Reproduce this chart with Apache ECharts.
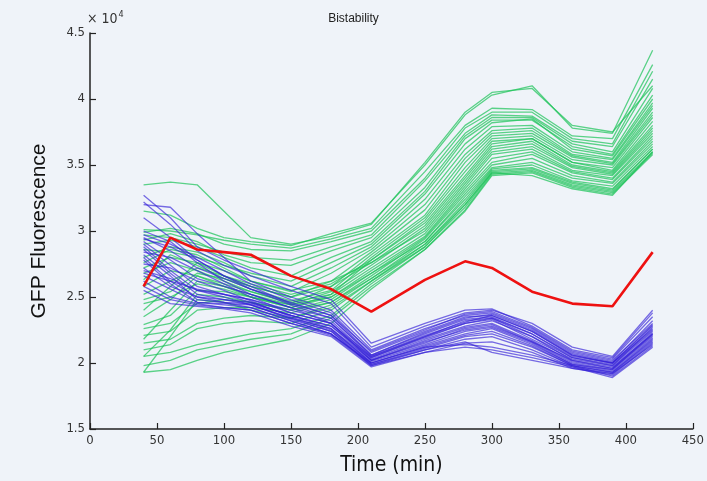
<!DOCTYPE html>
<html>
<head>
<meta charset="utf-8">
<script src="https://cdn.jsdelivr.net/npm/echarts@6/dist/echarts.min.js"></script>
<style>
html,body{margin:0;padding:0;background:#eff3f9;}
#c{width:707px;height:481px;}
</style>
</head>
<body>
<div id="c"></div>
<script>
// Time points (min)
var times = [40,60,80,100,120,150,180,210,250,280,300,330,360,390,420];
// Values are in units of 10^4 (GFP fluorescence)
var xTicks = [0,50,100,150,200,250,300,350,400,450];
var yTicks = [1.5,2,2.5,3,3.5,4,4.5];

var redLine = [2.58,2.95,2.86,2.84,2.82,2.66,2.56,2.39,2.63,2.77,2.72,2.54,2.45,2.43,2.84];

var greenLines = [
[3.35,3.37,3.35,3.15,2.95,2.90,2.96,3.05,3.52,3.90,4.05,4.08,3.80,3.75,4.10],
[3.15,3.12,3.02,2.95,2.92,2.89,2.98,3.06,3.50,3.88,4.03,4.10,3.78,3.74,4.37],
[3.01,3.00,2.97,2.93,2.90,2.87,2.94,3.02,3.45,3.80,3.93,3.92,3.72,3.70,4.26],
[2.99,3.02,2.98,2.90,2.86,2.85,2.92,3.00,3.40,3.78,3.90,3.90,3.70,3.66,4.21],
[2.97,2.95,2.90,2.84,2.80,2.78,2.88,2.97,3.38,3.74,3.88,3.87,3.68,3.64,4.15],
[2.93,2.98,2.92,2.82,2.76,2.74,2.85,2.95,3.33,3.72,3.86,3.86,3.66,3.60,4.08],
[2.90,2.93,2.88,2.80,2.72,2.66,2.80,2.92,3.30,3.70,3.84,3.84,3.64,3.58,4.03],
[2.86,2.84,2.80,2.74,2.68,2.62,2.76,2.90,3.28,3.66,3.82,3.85,3.62,3.57,4.00],
[2.80,2.88,2.84,2.76,2.66,2.58,2.72,2.88,3.24,3.62,3.79,3.80,3.60,3.55,3.97],
[2.76,2.86,2.82,2.72,2.62,2.54,2.68,2.86,3.20,3.58,3.76,3.78,3.58,3.54,3.95],
[2.72,2.80,2.76,2.66,2.58,2.50,2.62,2.84,3.16,3.55,3.74,3.76,3.57,3.52,3.93],
[2.68,2.76,2.70,2.62,2.54,2.45,2.58,2.82,3.12,3.52,3.72,3.74,3.56,3.51,3.90],
[2.63,2.82,2.74,2.64,2.56,2.47,2.55,2.80,3.10,3.48,3.70,3.72,3.54,3.50,3.88],
[2.58,2.70,2.66,2.58,2.50,2.42,2.52,2.78,3.08,3.45,3.68,3.70,3.52,3.48,3.86],
[2.52,2.62,2.72,2.66,2.60,2.52,2.60,2.78,3.06,3.42,3.66,3.70,3.52,3.46,3.83],
[2.48,2.54,2.68,2.64,2.58,2.50,2.58,2.76,3.04,3.40,3.64,3.68,3.50,3.45,3.80],
[2.45,2.50,2.60,2.56,2.50,2.44,2.54,2.74,3.02,3.38,3.62,3.66,3.49,3.44,3.78],
[2.40,2.58,2.76,2.70,2.62,2.55,2.62,2.76,3.00,3.36,3.60,3.64,3.48,3.43,3.76],
[2.35,2.48,2.66,2.60,2.54,2.46,2.52,2.72,2.98,3.34,3.58,3.62,3.46,3.42,3.74],
[2.29,2.36,2.55,2.54,2.50,2.42,2.50,2.70,2.96,3.32,3.55,3.60,3.45,3.40,3.72],
[2.26,2.30,2.45,2.48,2.46,2.40,2.48,2.68,2.95,3.30,3.52,3.58,3.44,3.39,3.70],
[2.21,2.24,2.40,2.42,2.42,2.38,2.46,2.66,2.94,3.28,3.50,3.55,3.42,3.37,3.68],
[2.18,2.40,2.62,2.58,2.52,2.44,2.50,2.68,2.92,3.26,3.48,3.52,3.40,3.36,3.66],
[2.15,2.18,2.30,2.34,2.36,2.34,2.44,2.64,2.92,3.24,3.47,3.50,3.38,3.34,3.64],
[2.10,2.14,2.26,2.30,2.32,2.30,2.40,2.62,2.90,3.22,3.46,3.48,3.37,3.32,3.62],
[2.05,2.25,2.52,2.50,2.46,2.40,2.46,2.64,2.90,3.20,3.45,3.47,3.36,3.31,3.62],
[2.05,2.08,2.14,2.18,2.22,2.26,2.36,2.60,2.88,3.18,3.44,3.46,3.35,3.30,3.60],
[1.98,2.02,2.10,2.14,2.18,2.22,2.34,2.58,2.86,3.16,3.43,3.45,3.34,3.29,3.59],
[1.93,1.95,2.02,2.08,2.12,2.18,2.30,2.56,2.86,3.15,3.42,3.44,3.33,3.28,3.58],
[1.93,2.20,2.48,2.46,2.40,2.34,2.42,2.62,2.88,3.20,3.44,3.42,3.32,3.27,3.60]
];

var blueLines = [
[3.27,3.10,2.88,2.78,2.70,2.58,2.48,2.15,2.30,2.40,2.41,2.28,2.10,2.04,2.38],
[3.22,3.05,2.85,2.74,2.66,2.55,2.45,2.12,2.28,2.38,2.40,2.30,2.12,2.05,2.40],
[3.20,3.18,2.98,2.80,2.62,2.50,2.40,2.10,2.26,2.36,2.38,2.26,2.08,2.02,2.30],
[2.97,2.90,2.80,2.70,2.60,2.48,2.38,2.08,2.24,2.35,2.36,2.24,2.06,2.00,2.28],
[2.95,2.85,2.72,2.64,2.56,2.46,2.36,2.06,2.22,2.33,2.35,2.22,2.05,2.00,2.26],
[2.92,2.78,2.64,2.58,2.52,2.42,2.34,2.05,2.20,2.32,2.34,2.20,2.04,1.99,2.25],
[2.88,2.70,2.55,2.52,2.48,2.40,2.32,2.04,2.19,2.30,2.33,2.18,2.03,1.98,2.24],
[2.84,2.80,2.70,2.60,2.50,2.38,2.30,2.03,2.18,2.28,2.32,2.20,2.02,1.97,2.22],
[2.82,2.66,2.48,2.46,2.45,2.36,2.28,2.02,2.17,2.27,2.30,2.17,2.01,1.96,2.21],
[2.78,2.60,2.46,2.45,2.44,2.34,2.26,2.02,2.15,2.26,2.29,2.16,2.00,1.95,2.20],
[2.75,2.72,2.62,2.55,2.47,2.35,2.25,2.01,2.14,2.24,2.27,2.15,1.99,1.95,2.22],
[2.70,2.64,2.55,2.50,2.44,2.33,2.24,2.00,2.13,2.22,2.26,2.14,1.99,1.94,2.19],
[2.66,2.56,2.46,2.44,2.42,2.32,2.22,2.00,2.12,2.21,2.24,2.13,1.98,1.93,2.18],
[2.62,2.50,2.45,2.42,2.40,2.30,2.22,1.99,2.11,2.20,2.22,2.12,1.98,1.93,2.17],
[2.58,2.48,2.44,2.42,2.40,2.30,2.21,1.98,2.10,2.18,2.20,2.10,1.97,1.92,2.16],
[2.55,2.45,2.43,2.41,2.38,2.28,2.20,1.97,2.08,2.15,2.16,2.08,1.96,1.91,2.15],
[3.00,2.92,2.76,2.62,2.52,2.42,2.30,2.02,2.16,2.25,2.28,2.16,2.02,1.96,2.23],
[2.90,2.74,2.58,2.52,2.46,2.36,2.26,2.00,2.12,2.14,2.12,2.06,1.98,1.90,2.13],
[2.86,2.68,2.52,2.48,2.44,2.34,2.24,1.98,2.08,2.12,2.10,2.04,1.97,1.89,2.12],
[2.80,2.62,2.50,2.46,2.42,2.32,2.22,1.99,2.10,2.16,2.08,2.02,1.96,1.92,2.14],
[2.72,2.58,2.50,2.48,2.46,2.36,2.28,2.04,2.20,2.30,2.34,2.22,2.04,1.98,2.27],
[2.94,2.88,2.78,2.66,2.56,2.44,2.34,2.06,2.23,2.34,2.37,2.25,2.07,2.01,2.32],
[2.68,2.62,2.56,2.52,2.48,2.38,2.30,2.05,2.21,2.31,2.36,2.24,2.06,2.00,2.29],
[3.10,2.95,2.78,2.66,2.58,2.45,2.36,2.09,2.25,2.37,2.39,2.27,2.09,2.03,2.35]
];

function pairs(vals){ return vals.map(function(v,i){ return [times[i], v]; }); }

var series = [];
greenLines.forEach(function(l){
  series.push({type:'line', data:pairs(l), symbol:'none', silent:true, animation:false,
    lineStyle:{color:'rgba(30,195,90,0.72)', width:1.3}});
});
blueLines.forEach(function(l){
  series.push({type:'line', data:pairs(l), symbol:'none', silent:true, animation:false,
    lineStyle:{color:'rgba(50,30,215,0.65)', width:1.3}});
});
series.push({type:'line', data:pairs(redLine), symbol:'none', silent:true, animation:false,
  lineStyle:{color:'#ee1111', width:2.6}});

var fontNarrow = '"Liberation Sans Narrow", "DejaVu Sans Condensed", "Liberation Sans", sans-serif';

var chart = echarts.init(document.getElementById('c'), null, {renderer:'canvas'});
chart.setOption({
  backgroundColor:'#eff3f9',
  animation:false,
  title:{text:'Bistability', left:'center', top:8,
    textStyle:{fontSize:12, fontWeight:'normal', color:'#222', fontFamily:'"Liberation Sans", Arial, sans-serif'}},
  grid:{left:90, right:12, top:33, bottom:52},
  xAxis:{type:'value', min:xTicks[0], max:xTicks[xTicks.length-1], interval:50,
    name:'Time (min)', nameLocation:'middle', nameGap:26,
    nameTextStyle:{fontSize:21, color:'#111', fontFamily:fontNarrow},
    axisLine:{lineStyle:{color:'#222', width:1.5}},
    axisTick:{inside:true, length:6, lineStyle:{color:'#222', width:1.2}},
    axisLabel:{fontSize:13, color:'#333', margin:5, fontFamily:fontNarrow},
    splitLine:{show:false}},
  yAxis:{type:'value', min:yTicks[0], max:yTicks[yTicks.length-1], interval:0.5,
    name:'GFP Fluorescence', nameLocation:'middle', nameGap:40,
    nameTextStyle:{fontSize:21, color:'#111', fontFamily:'"Liberation Sans", Arial, sans-serif'},
    axisLine:{show:true, lineStyle:{color:'#222', width:1.5}},
    axisTick:{show:true, inside:true, length:6, lineStyle:{color:'#222', width:1.2}},
    axisLabel:{fontSize:13, color:'#333', margin:5, fontFamily:fontNarrow},
    splitLine:{show:false}},
  graphic:[{type:'text', left:87, top:10,
    style:{text:'{a|× 10}{b|4}', rich:{a:{fontSize:14, fill:'#333', fontFamily:fontNarrow},
      b:{fontSize:9, fill:'#333', verticalAlign:'top', padding:[0,0,9,1], fontFamily:fontNarrow}}}}],
  series:series
});
</script>
</body>
</html>
